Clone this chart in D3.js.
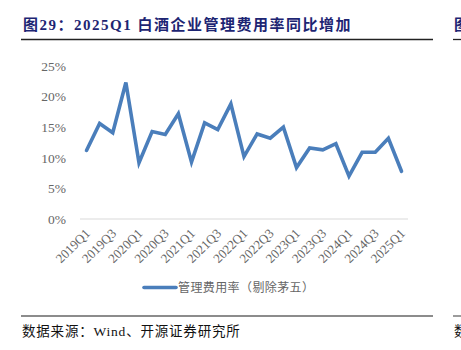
<!DOCTYPE html>
<html><head><meta charset="utf-8">
<script src="https://cdn.jsdelivr.net/npm/d3@7/dist/d3.min.js"></script>
<style>body{margin:0;background:#fff;}svg{display:block;}</style>
</head><body>
<script>
const categories = ["2019Q1","2019Q2","2019Q3","2019Q4","2020Q1","2020Q2","2020Q3","2020Q4","2021Q1","2021Q2","2021Q3","2021Q4","2022Q1","2022Q2","2022Q3","2022Q4","2023Q1","2023Q2","2023Q3","2023Q4","2024Q1","2024Q2","2024Q3","2024Q4","2025Q1"];
const values = [11.2,15.6,14.1,22.3,9.2,14.3,13.8,17.2,9.3,15.7,14.6,18.8,10.2,13.9,13.2,15.0,8.4,11.6,11.3,12.3,7.0,10.9,10.9,13.2,7.8];
const yTicks = [0,5,10,15,20,25];
const seriesName = "管理费用率（剔除茅五）";
const title = "图29：2025Q1 白酒企业管理费用率同比增加";
const source = "数据来源：Wind、开源证券研究所";

const W = 461, H = 350;
const svg = d3.select("body").append("svg").attr("width", W).attr("height", H);
const serif = "'Liberation Serif','Noto Sans CJK SC',serif";

// title
svg.append("text").attr("x", 23).attr("y", 30).text(title)
  .attr("font-family", serif).attr("font-weight", "bold").attr("font-size", 15)
  .attr("letter-spacing", 1.5).attr("fill", "#1d2573");
svg.append("line").attr("x1", 21).attr("x2", 433).attr("y1", 39.5).attr("y2", 39.5)
  .attr("stroke", "#222").attr("stroke-width", 1.3);
// partial next chart
svg.append("text").attr("x", 454).attr("y", 30).text("图")
  .attr("font-family", serif).attr("font-weight", "bold").attr("font-size", 15).attr("fill", "#1d2573");
svg.append("line").attr("x1", 453).attr("x2", 461).attr("y1", 39.5).attr("y2", 39.5)
  .attr("stroke", "#222").attr("stroke-width", 1.3);

const x = d3.scalePoint().domain(categories).range([86.5, 401.5]);
const y = d3.scaleLinear().domain([0, 25]).range([219, 66]);

// y axis labels
svg.append("g").selectAll("text").data(yTicks).join("text")
  .attr("x", 66).attr("y", d => y(d)).attr("dy", "0.35em")
  .attr("text-anchor", "end").attr("font-family", serif).attr("font-size", 13.5)
  .attr("fill", "#666").text(d => d + "%");

// x axis line
svg.append("line").attr("x1", 80).attr("x2", 408).attr("y1", y(0)).attr("y2", y(0))
  .attr("stroke", "#d9d9d9").attr("stroke-width", 1);

// x labels
svg.append("g").selectAll("text").data(categories.filter((d, i) => i % 2 === 0)).join("text")
  .attr("transform", d => `translate(${x(d) + 1},${231}) rotate(-45)`)
  .attr("text-anchor", "end").attr("dy", "0.35em")
  .attr("font-family", serif).attr("font-size", 13).attr("fill", "#666").text(d => d);

// line
const line = d3.line().x((d, i) => x(categories[i])).y(d => y(d));
svg.append("path").datum(values).attr("d", line).attr("fill", "none")
  .attr("stroke", "#4a7ebb").attr("stroke-width", 3.6).attr("stroke-linejoin", "miter").attr("stroke-linecap", "round");

// legend
svg.append("line").attr("x1", 144).attr("x2", 176).attr("y1", 287.5).attr("y2", 287.5)
  .attr("stroke", "#4a7ebb").attr("stroke-width", 3.6).attr("stroke-linecap", "round");
svg.append("text").attr("x", 178).attr("y", 288).attr("dy", "0.35em").text(seriesName)
  .attr("font-family", serif).attr("font-size", 12).attr("letter-spacing", 0.4).attr("fill", "#666");

// source
svg.append("line").attr("x1", 21).attr("x2", 433).attr("y1", 316).attr("y2", 316)
  .attr("stroke", "#666").attr("stroke-width", 1.3);
svg.append("line").attr("x1", 453).attr("x2", 461).attr("y1", 316).attr("y2", 316)
  .attr("stroke", "#666").attr("stroke-width", 1.3);
svg.append("text").attr("x", 22).attr("y", 336).text(source)
  .attr("font-family", serif).attr("font-size", 13.5).attr("letter-spacing", 0.8).attr("fill", "#111");
svg.append("text").attr("x", 454).attr("y", 336).text("数")
  .attr("font-family", serif).attr("font-size", 13.5).attr("fill", "#111");
</script>
</body></html>
